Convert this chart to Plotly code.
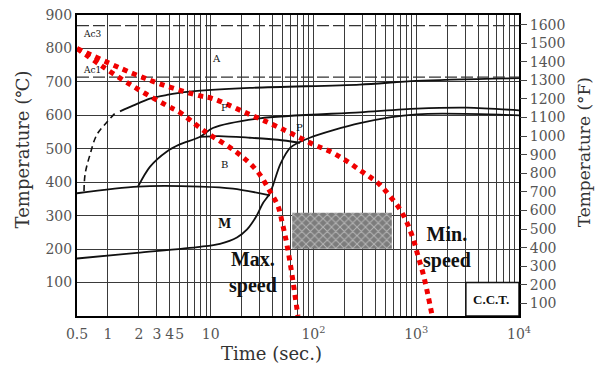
import numpy as np
import plotly.graph_objects as go

# ---- CCT diagram data: time in seconds, temperature in °C ----
max_speed_time = [0.5, 0.84, 1.75, 3.75, 5.0, 7.9, 9.8, 18.0, 28.2, 37.7, 45.1, 50.0, 55.2, 61.7, 70.6]
max_speed_temp = [800, 751, 687, 629, 609, 562, 542, 489, 434, 373, 329, 275, 213, 125, 0]

min_speed_time = [0.5, 1.75, 3.75, 7.9, 10.5, 22.6, 47.6, 100, 150, 211, 283, 354, 444, 556, 698,
                  815, 935, 1040, 1170, 1300, 1430]
min_speed_temp = [800, 725, 687, 658, 650, 606, 562, 513, 490, 463, 436, 416, 392, 358, 318,
                  278, 230, 180, 125, 63, 0]

ferrite_dash_time = [0.585, 0.60, 0.67, 0.78, 0.98, 1.17]
ferrite_dash_temp = [373, 425, 483, 542, 580, 606]

ferrite_time = [1.31, 1.75, 2.56, 3.75, 5.87, 24.1, 283, 1000, 10000]
ferrite_temp = [612, 629, 650, 661, 670, 682, 692, 703, 711]

bainite_start_time = [1.96, 2.56, 3.75, 5.0, 7.9, 10.5, 30.1, 283, 1010, 3110, 10000]
bainite_start_temp = [387, 446, 492, 513, 536, 562, 591, 609, 620, 623, 615]

bainite_end_time = [7.9, 12, 24, 45, 74]
bainite_end_temp = [536, 538, 533, 527, 518]

ms_pearlite_time = [0.5, 1.92, 7.86, 12.3, 18, 22.6, 28, 32.3, 37.7, 47.6, 59.9, 92, 283, 1010, 10000]
ms_pearlite_temp = [172, 189, 207, 216, 235, 259, 300, 338, 367, 454, 504, 533, 577, 603, 600]

bs_line_time = [0.5, 1.96, 7.86, 16.5, 37.7]
bs_line_temp = [367, 387, 387, 381, 361]

ac3_temp = 868
ac1_temp = 714

hatch_time = [62, 579]
hatch_temp = [201, 309]

cct_box_time = [3040, 10000]
cct_box_temp = [0, 100]

# axis ticks
time_range = [0.5, 10000]
grid_times = [0.5] + [m * 10 ** k for k in range(0, 4) for m in range(1, 10)] + [10000]
time_labels = {0.5: "0.5", 1: "1", 2: "2", 3: "3", 4: "4", 5: "5", 10: "10",
               100: "10<sup>2</sup>", 1000: "10<sup>3</sup>", 10000: "10<sup>4</sup>"}
temp_c_ticks = list(range(100, 1000, 100))
temp_f_ticks = list(range(100, 1700, 100))

BLACK = "#111111"
RED = "rgb(240,0,0)"
GRID = "#3a3a3a"
TICKFONT = dict(family="DejaVu Serif", size=14, color="#555555")


def c_to_f(c):
    return c * 1.8 + 32


fig = go.Figure()

# hatched test window
fig.add_trace(go.Scatter(
    x=[hatch_time[0], hatch_time[1], hatch_time[1], hatch_time[0], hatch_time[0]],
    y=[hatch_temp[0], hatch_temp[0], hatch_temp[1], hatch_temp[1], hatch_temp[0]],
    mode="lines", line=dict(width=0), fill="toself",
    fillpattern=dict(shape="x", fgcolor="#f0f0f0", bgcolor="#7c7c7c", size=6, solidity=0.3),
    hoverinfo="skip", showlegend=False))

# C.C.T. label box
fig.add_trace(go.Scatter(
    x=[cct_box_time[0], cct_box_time[1], cct_box_time[1], cct_box_time[0], cct_box_time[0]],
    y=[cct_box_temp[0], cct_box_temp[0], cct_box_temp[1], cct_box_temp[1], cct_box_temp[0]],
    mode="lines", line=dict(color=BLACK, width=1.5), fill="toself", fillcolor="white",
    hoverinfo="skip", showlegend=False))

# transformation lines
for t, T in [(ferrite_time, ferrite_temp), (bainite_start_time, bainite_start_temp),
             (bainite_end_time, bainite_end_temp), (ms_pearlite_time, ms_pearlite_temp),
             (bs_line_time, bs_line_temp)]:
    fig.add_trace(go.Scatter(x=t, y=T, mode="lines",
                             line=dict(color=BLACK, width=1.8, shape="spline", smoothing=0.8),
                             hoverinfo="skip", showlegend=False))

fig.add_trace(go.Scatter(x=ferrite_dash_time, y=ferrite_dash_temp, mode="lines",
                         line=dict(color=BLACK, width=1.6, dash="6px,4px", shape="spline"),
                         hoverinfo="skip", showlegend=False))

# Ac3 / Ac1
for T in (ac3_temp, ac1_temp):
    fig.add_trace(go.Scatter(x=time_range, y=[T, T], mode="lines",
                             line=dict(color="#333333", width=1.3, dash="12px,4px"),
                             hoverinfo="skip", showlegend=False))

# cooling speed curves
for t, T in [(max_speed_time, max_speed_temp), (min_speed_time, min_speed_temp)]:
    fig.add_trace(go.Scatter(x=t, y=T, mode="lines",
                             line=dict(color=RED, width=5, dash="dot", shape="spline", smoothing=1.0),
                             hoverinfo="skip", showlegend=False))

# Fahrenheit scale carrier
fig.add_trace(go.Scatter(x=[1], y=[c_to_f(0)], yaxis="y2", mode="markers",
                         marker=dict(opacity=0), hoverinfo="skip", showlegend=False))

lg = np.log10


def label(t, T, text, size=10, bold=False, family="DejaVu Serif"):
    fig.add_annotation(x=lg(t), y=T, xref="x", yref="y", text=f"<b>{text}</b>" if bold else text,
                       showarrow=False, font=dict(family=family, size=size, color=BLACK))


label(0.70, 842, "Ac3", size=9)
label(0.70, 737, "Ac1", size=9)
label(11.5, 769, "A")
label(13.7, 623, "F")
label(73.5, 565, "P")
label(13.7, 454, "B")
label(13.7, 274, "M", size=12, bold=True)
label(26, 130, "Max.<br>speed", size=20, bold=True, family="Liberation Serif")
label(2000, 205, "Min.<br>speed", size=20, bold=True, family="Liberation Serif")
label(5375, 50, "C.C.T.", size=13, bold=True, family="Liberation Serif")

# axis titles, placed relative to the plot area (77..519 px wide, 7..316 px tall)
title_font = dict(family="DejaVu Serif", size=18, color="#333333")
centered = dict(xanchor="center", yanchor="middle", showarrow=False, xref="paper", yref="paper")
fig.add_annotation(x=(22 - 77) / 442, y=(316 - 145) / 309, text="Temperature (℃)",
                   textangle=-90, font=title_font, **centered)
fig.add_annotation(x=(584 - 77) / 442, y=(316 - 148) / 309, text="Temperature (°F)",
                   textangle=-90, font=dict(family="DejaVu Serif", size=17, color="#333333"),
                   **centered)
fig.add_annotation(x=(271 - 77) / 442, y=(316 - 355) / 309, text="Time (sec.)",
                   font=title_font, **centered)

fig.update_layout(
    width=600, height=370,
    margin=dict(l=77, r=81, t=7, b=54),
    paper_bgcolor="white", plot_bgcolor="white",
    showlegend=False,
    xaxis=dict(type="log", range=[lg(0.5), 4], tickmode="array", tickvals=grid_times,
               ticktext=[time_labels.get(v, "") for v in grid_times], tickangle=0,
               ticklabelstandoff=4,
               showgrid=True, gridcolor=GRID, gridwidth=1, ticks="",
               showline=True, linecolor="black", linewidth=2, mirror=True,
               tickfont=TICKFONT, zeroline=False),
    yaxis=dict(range=[0, 900], tickmode="array", tickvals=temp_c_ticks,
               showgrid=True, gridcolor=GRID, gridwidth=1, ticks="",
               showline=True, linecolor="black", linewidth=2, mirror=True,
               tickfont=TICKFONT, zeroline=False),
    yaxis2=dict(overlaying="y", side="right", range=[c_to_f(0), c_to_f(900)],
                tickmode="array", tickvals=temp_f_ticks, showgrid=False, zeroline=False,
                ticks="outside", ticklen=7, tickcolor="#444444", tickwidth=1,
                tickfont=TICKFONT, showline=False),
)

fig.write_html("out.html")
